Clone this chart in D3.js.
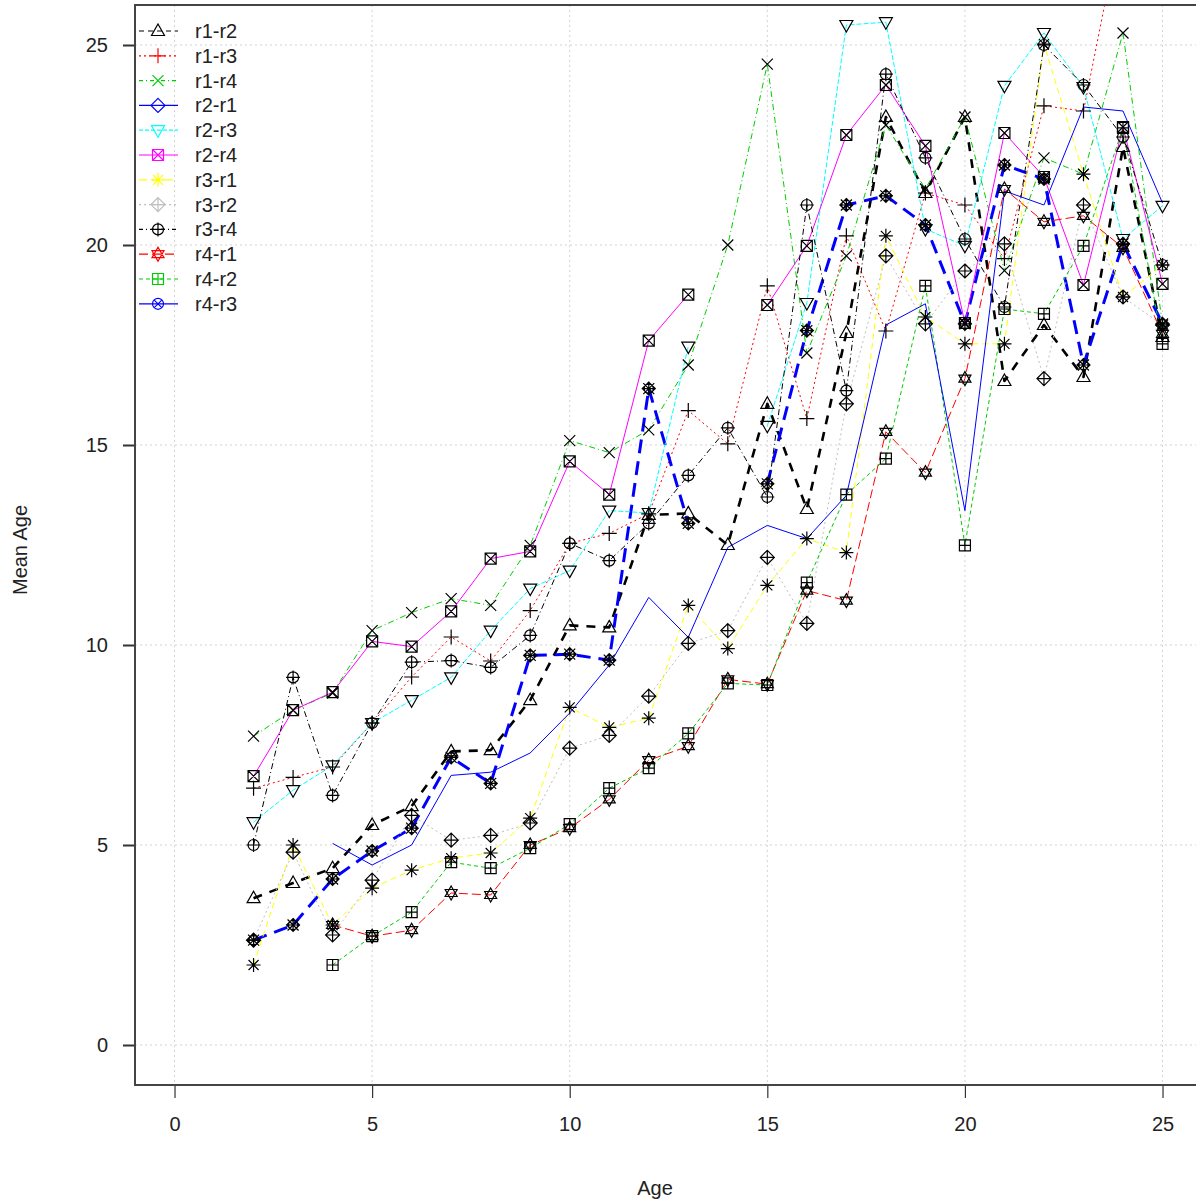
<!DOCTYPE html>
<html>
<head>
<meta charset="utf-8">
<script src="https://cdnjs.cloudflare.com/ajax/libs/d3/7.8.5/d3.min.js"></script>
<style>
  html, body { margin: 0; padding: 0; background: #fff; }
  svg { display: block; }
  text { font-family: "Liberation Sans", Arial, sans-serif; fill: #222; }
</style>
</head>
<body>
<svg id="chart" width="1196" height="1203"></svg>
<script>
// ---------------- DATA ----------------
const ages = [2,3,4,5,6,7,8,9,10,11,12,13,14,15,16,17,18,19,20,21,22,23,24,25];
const seriesNames = ["r1-r2","r1-r3","r1-r4","r2-r1","r2-r3","r2-r4","r3-r1","r3-r2","r3-r4","r4-r1","r4-r2","r4-r3"];

const r1_r2 = [3.67,4.05,4.42,5.50,5.97,7.34,7.37,8.62,10.49,10.44,13.25,13.29,12.50,16.03,13.40,17.80,23.20,21.30,23.20,16.60,18.00,16.70,22.45,17.70];
const r1_r3 = [6.42,6.69,6.95,8.05,9.20,10.20,9.60,10.86,12.54,12.79,13.28,15.86,15.03,18.98,15.66,20.23,17.85,21.30,21.00,19.66,23.48,23.35,28.30,null];
const r1_r4 = [7.72,8.37,8.80,10.36,10.81,11.16,10.99,12.49,15.11,14.81,15.38,17.00,20.00,24.52,17.30,19.73,23.00,21.40,23.20,19.36,22.18,21.77,25.30,18.00];
const r2_r1 = [2.62,3.00,4.15,4.85,5.42,7.19,6.54,9.74,9.77,9.62,16.41,13.04,null,14.03,17.86,21.00,21.23,20.50,18.03,22.00,21.65,17.00,20.03,18.03];
const r2_r3 = [5.57,6.37,6.99,8.05,8.62,9.19,10.36,11.41,11.86,13.36,13.30,17.46,null,15.48,18.55,25.50,25.57,20.40,19.98,23.98,25.30,23.95,20.15,20.98];
const r2_r4 = [6.72,8.37,8.82,10.09,9.96,10.84,12.16,12.34,14.59,13.76,17.61,18.76,null,18.50,19.98,22.75,24.00,22.48,18.05,22.80,21.70,19.00,22.95,19.03];
const r3_r1 = [2.00,5.00,3.00,3.92,4.37,4.67,4.80,5.67,8.44,7.94,8.17,10.99,9.91,11.49,12.66,12.31,20.23,18.20,17.53,17.53,25.02,21.77,18.70,19.50];
const r3_r2 = [2.62,4.82,2.75,4.12,5.74,5.12,5.24,5.55,7.42,7.74,8.72,10.04,10.36,12.19,10.54,16.03,19.73,18.03,19.35,20.03,16.66,21.00,18.70,18.00];
const r3_r4 = [5.00,9.19,6.24,8.05,9.57,9.61,9.44,10.24,12.54,12.11,13.04,14.24,15.43,13.70,21.00,16.36,24.27,22.18,20.15,18.45,25.00,24.00,22.70,19.50];
const r4_r1 = [null,null,3.00,2.72,2.87,3.80,3.75,5.00,5.42,6.14,7.12,7.47,9.14,9.02,11.36,11.11,15.33,14.31,16.66,21.40,20.58,20.73,19.93,17.78];
const r4_r2 = [null,null,2.00,2.72,3.32,4.57,4.42,4.92,5.52,6.42,6.92,7.79,9.04,9.00,11.56,13.76,14.66,18.98,12.49,18.40,18.28,19.98,22.93,17.53];
const r4_r3 = [null,null,5.04,4.50,5.00,6.74,6.82,7.30,8.30,9.50,11.19,10.19,12.44,12.99,12.66,13.74,18.00,18.53,13.36,21.35,21.00,23.45,23.35,21.05];

const seriesValues = [r1_r2,r1_r3,r1_r4,r2_r1,r2_r3,r2_r4,r3_r1,r3_r2,r3_r4,r4_r1,r4_r2,r4_r3];
const xTicks = [0,5,10,15,20,25];
const yTicks = [0,5,10,15,20,25];

// ---------------- STYLES ----------------
const colors = ["#000000","#FF0000","#00CD00","#0000FF","#00FFFF","#FF00FF","#FFFF00","#BEBEBE","#000000","#FF0000","#00CD00","#0000FF"];
const plotDash = ["9,8","2,3","6,3,1,3","14,8","5,2",null,"6,4","2,3","6,3,1,3","9,4","4,3",null];
const plotWidth = [2.6,1,1,3,1,1,1,1,1,1,1,1];
const legendDash = ["5,4","2,3","4,3,1,3",null,"4,2",null,"8,5","2,3","4,3,1,3","9,4","4,3",null];
const plotMarker = ["tri","plus","x","sun","tridown","sqx","ast","dplus","cplus","david","sqplus",null];
const legendMarker = ["tri","plus","x","diamond","tridown","sqx","ast","dplus","cplus","david","sqplus","cx"];

// ---------------- LAYOUT ----------------
const svg = d3.select("#chart");
const L = 135, T = 5, B = 1085;
const x = d3.scaleLinear().domain([-1, 26]).range([L, L + 27 * 39.52]);
const y = d3.scaleLinear().domain([-1, 26]).range([B, T]);
const R = x(26);

svg.append("defs").append("clipPath").attr("id", "clip")
  .append("rect").attr("x", L).attr("y", T).attr("width", R - L).attr("height", B - T);

// grid
const grid = svg.append("g");
grid.selectAll("line.v").data(xTicks).join("line")
  .attr("x1", d => x(d)).attr("x2", d => x(d)).attr("y1", T).attr("y2", B)
  .attr("stroke", "#d3d3d3").attr("stroke-dasharray", "2,3").attr("stroke-width", 1);
grid.selectAll("line.h").data(yTicks).join("line")
  .attr("y1", d => y(d)).attr("y2", d => y(d)).attr("x1", L).attr("x2", R)
  .attr("stroke", "#d3d3d3").attr("stroke-dasharray", "2,3").attr("stroke-width", 1);

// axes
const xAxis = d3.axisBottom(x).tickValues(xTicks).tickSize(13).tickPadding(19).tickFormat(d3.format("d"));
const yAxis = d3.axisLeft(y).tickValues(yTicks).tickSize(12).tickPadding(15).tickFormat(d3.format("d"));
const gx = svg.append("g").attr("transform", `translate(0,${B})`).call(xAxis);
const gy = svg.append("g").attr("transform", `translate(${L},0)`).call(yAxis);
gx.select(".domain").remove();
gy.select(".domain").remove();
[gx, gy].forEach(g => {
  g.selectAll(".tick line").attr("stroke", "#333").attr("stroke-width", 1.2);
  g.selectAll(".tick text").style("font-size", "20px").attr("fill", "#222")
    .style("font-family", "'Liberation Sans', Arial, sans-serif");
});
gy.selectAll(".tick line").attr("stroke-width", 2);

// frame (left, top, bottom)
svg.append("path")
  .attr("d", `M${R},${T}H${L}V${B}H${R}`)
  .attr("fill", "none").attr("stroke", "#444").attr("stroke-width", 2);

// axis labels
svg.append("text").attr("x", 655).attr("y", 1195).attr("text-anchor", "middle")
  .style("font-size", "20px").text("Age");
svg.append("text").attr("transform", "translate(27,550) rotate(-90)").attr("text-anchor", "middle")
  .style("font-size", "20px").text("Mean Age");

// marker paths
function markerPath(t) {
  const circ = r => `M${r},0A${r},${r} 0 1,1 ${-r},0A${r},${r} 0 1,1 ${r},0`;
  const sq = s => `M${-s},${-s}H${s}V${s}H${-s}Z`;
  const xs = s => `M${-s},${-s}L${s},${s}M${-s},${s}L${s},${-s}`;
  const ps = s => `M${-s},0H${s}M0,${-s}V${s}`;
  const dia = s => `M0,${-s}L${s},0L0,${s}L${-s},0Z`;
  const tu = `M0,-7L6.5,4.5L-6.5,4.5Z`;
  const td = `M0,7L6.5,-4.5L-6.5,-4.5Z`;
  switch (t) {
    case "tri": return tu;
    case "plus": return ps(7.5);
    case "x": return xs(5.5);
    case "diamond": return dia(7);
    case "tridown": return td;
    case "sqx": return sq(5.5) + xs(5.5);
    case "ast": return ps(7) + xs(5);
    case "dplus": return dia(7) + ps(7);
    case "cplus": return circ(5.5) + ps(7);
    case "david": return `M0,-7L6,3.5L-6,3.5Z` + `M0,7L6,-3.5L-6,-3.5Z`;
    case "sqplus": return sq(5.5) + ps(5.5);
    case "cx": return circ(5.5) + xs(4);
    case "sun": return circ(4.5) + ps(7) + xs(5.5) + dia(6.5);
  }
  return "";
}

// lines
const plot = svg.append("g").attr("clip-path", "url(#clip)");
const lineGen = d3.line().defined(d => d[1] !== null).x(d => x(d[0])).y(d => y(d[1]));
seriesValues.forEach((vals, i) => {
  const pts = ages.map((a, j) => [a, vals[j]]);
  plot.append("path").datum(pts)
    .attr("d", lineGen)
    .attr("fill", "none")
    .attr("stroke", colors[i])
    .attr("stroke-width", plotWidth[i])
    .attr("stroke-dasharray", plotDash[i])
    .attr("stroke-linejoin", "round");
});
// markers
seriesValues.forEach((vals, i) => {
  if (!plotMarker[i]) return;
  const pts = ages.map((a, j) => [a, vals[j]]).filter(d => d[1] !== null);
  plot.append("g").selectAll("path").data(pts).join("path")
    .attr("transform", d => `translate(${x(d[0])},${y(d[1])})`)
    .attr("d", markerPath(plotMarker[i]))
    .attr("fill", "none").attr("stroke", "#000").attr("stroke-width", 1.2);
});

// legend
const leg = svg.append("g");
seriesNames.forEach((name, i) => {
  const cy = 31 + i * 24.8;
  leg.append("line").attr("x1", 139).attr("x2", 178).attr("y1", cy).attr("y2", cy)
    .attr("stroke", colors[i]).attr("stroke-width", 1.2).attr("stroke-dasharray", legendDash[i]);
  leg.append("path").attr("transform", `translate(158,${cy})`).attr("d", markerPath(legendMarker[i]))
    .attr("fill", "none").attr("stroke", colors[i]).attr("stroke-width", 1.2);
  leg.append("text").attr("x", 195).attr("y", cy + 7).style("font-size", "20px").text(name);
});
</script>
</body>
</html>
